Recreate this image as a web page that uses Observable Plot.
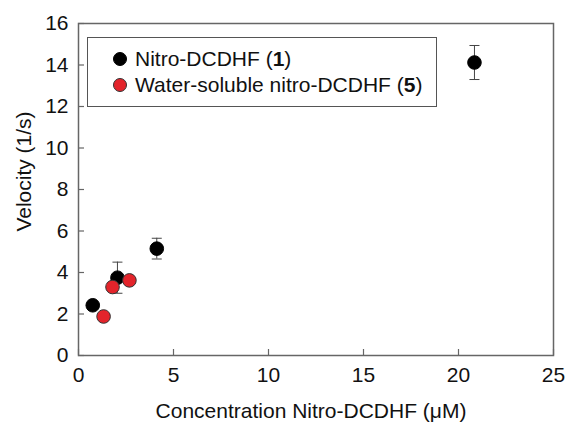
<!DOCTYPE html>
<html>
<head>
<meta charset="utf-8">
<script src="https://cdn.jsdelivr.net/npm/d3@7"></script>
<script src="https://cdn.jsdelivr.net/npm/@observablehq/plot@0.6"></script>
<style>
  html, body { margin: 0; padding: 0; background: #fff; }
  #wrap { position: relative; width: 566px; height: 424px; font-family: "Liberation Sans", Arial, sans-serif; }
  #legend { position: absolute; left: 87px; top: 37px; width: 350px; height: 70px; border: 1.5px solid #555; box-sizing: border-box; }
  .item { position: absolute; left: 24px; font-size: 21px; color: #111; line-height: 24px; white-space: nowrap; }
  .item svg { position: absolute; left: 0; top: 4px; }
  .item span { position: absolute; left: 23px; top: 0; }
</style>
</head>
<body>
<div id="wrap"></div>
<script>
// Series 1: Nitro-DCDHF (1)
const conc1 = [0.75, 2.05, 4.12, 20.84];
const vel1 = [2.42, 3.75, 5.15, 14.12];
const err1 = [0, 0.75, 0.5, 0.82];
// Series 5: Water-soluble nitro-DCDHF (5)
const conc5 = [1.32, 1.79, 2.68];
const vel5 = [1.88, 3.3, 3.62];
const xTicks = [0, 5, 10, 15, 20, 25];
const yTicks = [0, 2, 4, 6, 8, 10, 12, 14, 16];
const seriesNames = [["Nitro-DCDHF (", "1", ")"], ["Water-soluble nitro-DCDHF (", "5", ")"]];
const colors = ["#000000", "#e3242b"];

const s1 = conc1.map((x, i) => ({x, y: vel1[i], e: err1[i]}));
const s5 = conc5.map((x, i) => ({x, y: vel5[i]}));
const errs = s1.filter(d => d.e > 0);

const cap = { draw(ctx) { ctx.moveTo(-5, 0); ctx.lineTo(5, 0); } };

const chart = Plot.plot({
  width: 566,
  height: 424,
  marginLeft: 78,
  marginRight: 13,
  marginTop: 23,
  marginBottom: 69,
  style: { fontFamily: '"Liberation Sans", Arial, sans-serif', background: "#fff" },
  x: { domain: [0, 25] },
  y: { domain: [0, 16] },
  marks: [
    Plot.axisX({ ticks: xTicks, tickSize: 0, tickPadding: 12, fontSize: 21, fill: "#111", label: null }),
    Plot.axisX({ ticks: xTicks, tickSize: -6, text: null, stroke: "#666", strokeWidth: 1.2, label: null }),
    Plot.axisY({ ticks: yTicks, tickSize: 0, tickPadding: 10, fontSize: 21, fill: "#111", label: null }),
    Plot.axisY({ ticks: yTicks, tickSize: -6, text: null, stroke: "#666", strokeWidth: 1.2, label: null }),
    Plot.frame({ stroke: "#666", strokeWidth: 1.5 }),
    Plot.ruleX(errs, { x: "x", y1: d => d.y - d.e, y2: d => d.y + d.e, stroke: "#444", strokeWidth: 1 }),
    Plot.dot(errs, { x: "x", y: d => d.y - d.e, symbol: cap, stroke: "#444", strokeWidth: 1, r: 5 }),
    Plot.dot(errs, { x: "x", y: d => d.y + d.e, symbol: cap, stroke: "#444", strokeWidth: 1, r: 5 }),
    Plot.dot(s1, { x: "x", y: "y", r: 6.8, fill: colors[0], stroke: "#000", strokeWidth: 1 }),
    Plot.dot(s5, { x: "x", y: "y", r: 6.8, fill: colors[1], stroke: "#333", strokeWidth: 1 }),
    Plot.text(["Concentration Nitro-DCDHF (μM)"], { text: d => d, frameAnchor: "bottom", textAnchor: "middle", lineAnchor: "middle", dx: -5, dy: 56, fontSize: 21, fill: "#111" }),
    Plot.text(["Velocity (1/s)"], { text: d => d, frameAnchor: "left", textAnchor: "middle", lineAnchor: "middle", rotate: -90, dx: -54, dy: -18, fontSize: 21, fill: "#111" })
  ]
});

const wrap = document.getElementById("wrap");
wrap.appendChild(chart);

const legend = document.createElement("div");
legend.id = "legend";
seriesNames.forEach((parts, i) => {
  const item = document.createElement("div");
  item.className = "item";
  item.style.top = (9 + i * 26) + "px";
  item.innerHTML = `<svg width="16" height="16"><circle cx="8" cy="8" r="6.5" fill="${colors[i]}" stroke="${i ? '#333' : '#000'}" stroke-width="1"/></svg><span>${parts[0]}<b>${parts[1]}</b>${parts[2]}</span>`;
  legend.appendChild(item);
});
wrap.appendChild(legend);
</script>
</body>
</html>
